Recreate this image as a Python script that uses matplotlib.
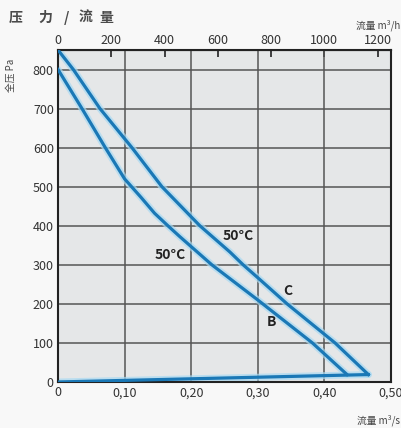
import matplotlib as mpl
mpl.use('Agg')
import matplotlib.pyplot as plt

plt.rcParams['font.family'] = ['Noto Sans CJK SC', 'DejaVu Sans']

# curve C (flow m3/s, pressure Pa)
c_flow = [0.0, 0.023, 0.063, 0.111, 0.156, 0.213, 0.258, 0.278, 0.300, 0.344, 0.416, 0.466]
c_pres = [850, 800, 700, 600, 500, 400, 333, 300, 267, 200, 100, 19]

# curve B
b_flow = [0.0, 0.036, 0.071, 0.100, 0.125, 0.145, 0.165, 0.183, 0.231, 0.300, 0.382, 0.434]
b_pres = [800, 700, 600, 520, 472, 432, 400, 372, 300, 210, 100, 19]

# bottom return line
base_flow = [0.0, 0.466]
base_pres = [0, 19]

x_ticks = [0, 0.1, 0.2, 0.3, 0.4, 0.5]
x_labels = ['0', '0,10', '0,20', '0,30', '0,40', '0,50']
y_ticks = [0, 100, 200, 300, 400, 500, 600, 700, 800]
top_ticks = [0, 200, 400, 600, 800, 1000, 1200]

title_chars = ['压', '力', '/', '流', '量']
title_x = [9, 38, 64, 79, 99]  # pixel left edges

line_col = '#1a78b6'
glow_col = '#a9daf2'

fig = plt.figure(figsize=(4.02, 4.28), dpi=100)
fig.patch.set_facecolor('#f8f8f8')
ax = fig.add_axes([0.1443, 0.1075, 0.8283, 0.7757])
ax.set_facecolor('#e5e7e8')

ax.set_xlim(0, 0.5)
ax.set_ylim(0, 850)

# grid
for x in x_ticks[1:-1]:
    ax.axvline(x, color='#555555', lw=1.1, zorder=1)
for y in y_ticks[1:]:
    ax.axhline(y, color='#555555', lw=1.1, zorder=1)

# curves with light halo
for fx, py in [(c_flow, c_pres), (b_flow, b_pres), (base_flow, base_pres)]:
    ax.plot(fx, py, color=glow_col, lw=5, alpha=0.7, zorder=2,
            solid_capstyle='round', solid_joinstyle='round')
    ax.plot(fx, py, color=line_col, lw=2.3, zorder=3, solid_joinstyle='round')

# labels on curves
ax.text(0.270, 374, '50°C', fontsize=10, fontweight='bold', ha='center', va='center', color='#222222', zorder=4)
ax.text(0.168, 326, '50°C', fontsize=10, fontweight='bold', ha='center', va='center', color='#222222', zorder=4)
ax.text(0.345, 233, 'C', fontsize=10, fontweight='bold', ha='center', va='center', color='#222222', zorder=4)
ax.text(0.320, 154, 'B', fontsize=10, fontweight='bold', ha='center', va='center', color='#222222', zorder=4)

# axes ticks
ax.set_xticks(x_ticks)
ax.set_xticklabels(x_labels)
ax.set_yticks(y_ticks)
ax.tick_params(axis='both', length=0, labelsize=9, colors='#333333', pad=3)
for s in ax.spines.values():
    s.set_color('#222222')
    s.set_linewidth(1.5)

# top axis in m3/h
top = ax.secondary_xaxis('top', functions=(lambda v: v * 2500, lambda v: v / 2500))
top.set_xticks(top_ticks)
top.tick_params(direction='in', length=5, width=1.2, labelsize=9, colors='#222222',
                labelcolor='#333333', pad=2)

# title, spaced out
for ch, px in zip(title_chars, title_x):
    fig.text(px / 402, 0.975, ch, fontsize=10, fontweight='bold', color='#4a4a4a', va='top', ha='left')

fig.text(0.995, 0.94, '流量 m³/h', fontsize=7, color='#444444', va='center', ha='right')
fig.text(0.995, 0.018, '流量 m³/s', fontsize=7, color='#444444', va='center', ha='right')
fig.text(0.028, 0.825, '全压 Pa', fontsize=7, color='#444444', va='center', ha='center', rotation=90)

fig.savefig('out.png', dpi=100, facecolor=fig.get_facecolor())
